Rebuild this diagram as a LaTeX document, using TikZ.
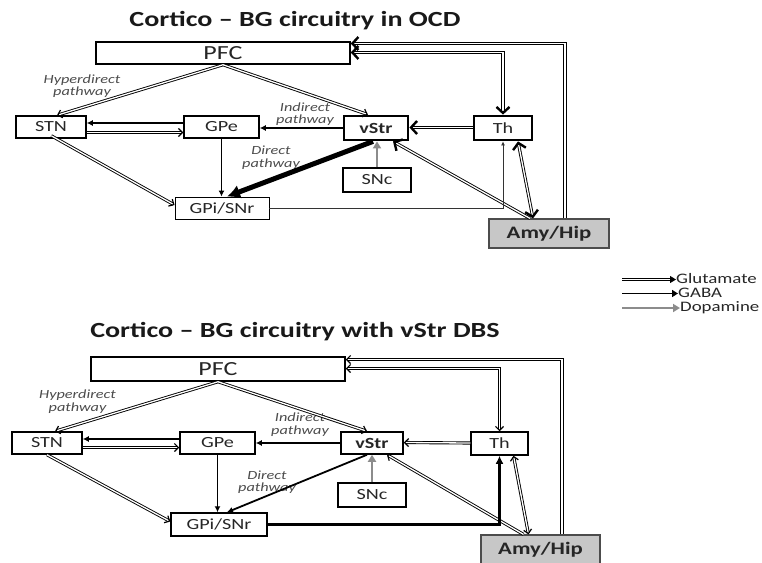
\documentclass[tikz,border=0pt]{standalone}
\usepackage{fontspec}
\setmainfont{Carlito}[FakeStretch=1.3]
\usetikzlibrary{arrows.meta,calc}

\begin{document}
\begin{tikzpicture}[x=1pt,y=-1pt,
  box/.style={draw=black, line width=1.5pt, inner sep=0pt, text=black!85,
    font=\fontsize{15.5}{17}\selectfont},
  thickbox/.style={box, line width=2.8pt},
  thinbox/.style={box, line width=0.9pt},
  amybox/.style={box, fill=black!22, line width=1.2pt, draw=black!70,
    font=\bfseries\fontsize{17.5}{20}\selectfont},
  heading/.style={anchor=base, text=black!90, font=\bfseries\fontsize{21.6}{24}\selectfont},
  pathlabel/.style={align=center, inner sep=0pt, text=black!70,
    font=\itshape\fontsize{12.5}{12.5}\selectfont},
  legtext/.style={anchor=west, inner sep=0pt, text=black!85,
    font=\fontsize{14.5}{15}\selectfont},
  glu/.style={draw=black, double=white, double distance=1.3pt, line width=0.9pt, line join=miter},
  gluhead/.style={-{Straight Barb[length=4pt,width=8pt,line width=1.2pt]}},
  gluheads/.style={{Straight Barb[length=4pt,width=8pt,line width=1.2pt]}-{Straight Barb[length=4pt,width=8pt,line width=1.2pt]}},
  glubig/.style={-{Straight Barb[length=6pt,width=13pt,line width=2.4pt]}},
  glubigs/.style={{Straight Barb[length=6pt,width=13pt,line width=2.4pt]}-{Straight Barb[length=6pt,width=13pt,line width=2.4pt]}},
  gaba/.style={draw=black, line width=1.5pt, -{Latex[length=6pt,width=6pt]}},
  dopa/.style={draw=black!45, line width=2.4pt, -{Triangle[length=7pt,width=8pt]}}
]
\useasboundingbox (0,0) rectangle (762,562);

% ---------------- OCD circuit ----------------
\node[heading] (t1) at (295,27) {Cortico – BG circuitry in OCD};

\node[box, minimum width=254pt, minimum height=22pt, font=\fontsize{20}{22}\selectfont] (pfc1) at (223,53) {PFC};
\node[box, minimum width=70pt, minimum height=22pt] (stn1) at (51,127) {STN};
\node[box, minimum width=75pt, minimum height=22pt] (gpe1) at (221.5,127) {GPe};
\node[thickbox, minimum width=64pt, minimum height=24pt, font=\bfseries\fontsize{15.5}{17}\selectfont] (vstr1) at (376,128) {vStr};
\node[thickbox, minimum width=58pt, minimum height=24pt] (th1) at (503,128) {Th};
\node[box, minimum width=68pt, minimum height=24pt] (snc1) at (377,180) {SNc};
\node[thinbox, minimum width=94pt, minimum height=22pt] (gpi1) at (222,208) {GPi/SNr};
\node[amybox, minimum width=120pt, minimum height=29pt] (amy1) at (549,233.5) {Amy/Hip};

\node[pathlabel] (hyp1) at (82,86) {Hyperdirect\\pathway};
\node[pathlabel] (ind1) at (305,114) {Indirect\\pathway};
\node[pathlabel] (dir1) at (271,157.5) {Direct\\pathway};

% glutamatergic projections
\draw[glu, gluhead] (pfc1.south) -- ([xshift=6pt]stn1.north);
\draw[glu, gluhead] (pfc1.south) -- ([xshift=-8pt]vstr1.north);
\draw[glu, gluhead] ([yshift=-5.5pt]stn1.east) -- ([yshift=-5.5pt]gpe1.west);
\draw[glu, gluhead] ([yshift=3pt]stn1.south west) ++(36pt,0) -- ([yshift=3pt]gpi1.west);
\draw[glu, glubig] ([yshift=0.5pt]th1.west) -- ([yshift=0.5pt]vstr1.east);
\draw[glu, glubig] ([xshift=-19pt]amy1.north) -- ([xshift=17pt]vstr1.south);
\draw[glu, glubigs] ([yshift=0.5pt]pfc1.east) -| (th1.north);
\draw[glu, glubig] ([xshift=16pt]amy1.north) |- ([yshift=9.5pt]pfc1.east);
\draw[glu, glubigs] ([xshift=15pt]th1.south) -- ([xshift=-16pt]amy1.north);

% GABAergic projections
\draw[gaba] ([yshift=4pt]gpe1.west) -- ([yshift=4pt]stn1.east);
\draw[gaba] (vstr1.west) -- (vstr1.west -| gpe1.east);
\draw[gaba] (gpe1.south) -- (gpe1.south |- gpi1.north);
\draw[gaba, line width=5pt, -{Latex[length=13pt,width=14pt]}] ([xshift=-3pt]vstr1.south) -- ([xshift=5pt]gpi1.north);
\draw[draw=black!80, line width=0.8pt, -{Latex[length=4pt,width=4pt]}] (gpi1.east) -| (th1.south);

% dopaminergic projection
\draw[dopa] (snc1.north) -- (snc1.north |- vstr1.south);

% ---------------- legend ----------------
\node[legtext] (lg1) at (676,279) {Glutamate};
\node[legtext] (lg2) at (678,293) {GABA};
\node[legtext] (lg3) at (680,307.5) {Dopamine};
\coordinate (lgs1) at (622,279.5);
\coordinate (lgs2) at (622,293.5);
\coordinate (lgs3) at (622,308);
\draw[glu, -{Triangle[length=6pt,width=7pt]}] (lgs1) -- (lgs1 -| lg1.west);
\draw[gaba, -{Triangle[length=6pt,width=7pt]}] (lgs2) -- (lgs2 -| lg2.west);
\draw[dopa, line width=2pt] (lgs3) -- (lgs3 -| lg3.west);

% ---------------- DBS circuit ----------------
\node[heading] (t2) at (295,337) {Cortico – BG circuitry with vStr DBS};

\node[box, minimum width=254pt, minimum height=24pt, font=\fontsize{20}{22}\selectfont] (pfc2) at (218,369) {PFC};
\node[box, minimum width=70pt, minimum height=22pt] (stn2) at (47,443) {STN};
\node[box, minimum width=75pt, minimum height=22pt] (gpe2) at (217.5,443) {GPe};
\node[box, minimum width=62pt, minimum height=22pt, font=\bfseries\fontsize{15.5}{17}\selectfont] (vstr2) at (372,443) {vStr};
\node[box, minimum width=57pt, minimum height=23pt] (th2) at (499.5,443.5) {Th};
\node[box, minimum width=68pt, minimum height=24pt] (snc2) at (372,495) {SNc};
\node[box, minimum width=96pt, minimum height=23pt] (gpi2) at (219,524.5) {GPi/SNr};
\node[amybox, minimum width=119pt, minimum height=29pt] (amy2) at (540.5,549.5) {Amy/Hip};

\node[pathlabel] (hyp2) at (77.5,401.5) {Hyperdirect\\pathway};
\node[pathlabel] (ind2) at (300,424.5) {Indirect\\pathway};
\node[pathlabel] (dir2) at (267,482) {Direct\\pathway};

% glutamatergic projections
\draw[glu, gluhead] (pfc2.south) -- ([xshift=8pt]stn2.north);
\draw[glu, gluhead] (pfc2.south) -- ([xshift=-5pt]vstr2.north);
\draw[glu, gluhead] ([yshift=-4.5pt]stn2.east) -- ([yshift=-4.5pt]gpe2.west);
\draw[glu, gluhead] (stn2.south) -- ([yshift=3pt]gpi2.west);
\draw[glu, gluhead] ([yshift=0.5pt]th2.west) -- ([yshift=0.5pt]vstr2.east);
\draw[glu, gluhead] ([xshift=-17pt]amy2.north) -- ([xshift=15pt]vstr2.south);
\draw[glu, gluheads] ([yshift=0.5pt]pfc2.east) -| (th2.north);
\draw[glu, gluhead] ([xshift=21.5pt]amy2.north) |- ([yshift=9.5pt]pfc2.east);
\draw[glu, gluheads] ([xshift=14pt]th2.south) -- ([xshift=-12pt]amy2.north);

% GABAergic projections
\draw[gaba] ([yshift=4pt]gpe2.west) -- ([yshift=4pt]stn2.east);
\draw[gaba] (vstr2.west) -- (vstr2.west -| gpe2.east);
\draw[gaba] (gpe2.south) -- (gpe2.south |- gpi2.north);
\draw[gaba, line width=1.8pt] ([xshift=-5pt]vstr2.south) -- ([xshift=8pt]gpi2.north);
\draw[gaba, line width=2.6pt, -{Latex[length=8pt,width=8pt]}] (gpi2.east) -| (th2.south);

% dopaminergic projection
\draw[dopa] (snc2.north) -- (snc2.north |- vstr2.south);
\end{tikzpicture}
\end{document}
